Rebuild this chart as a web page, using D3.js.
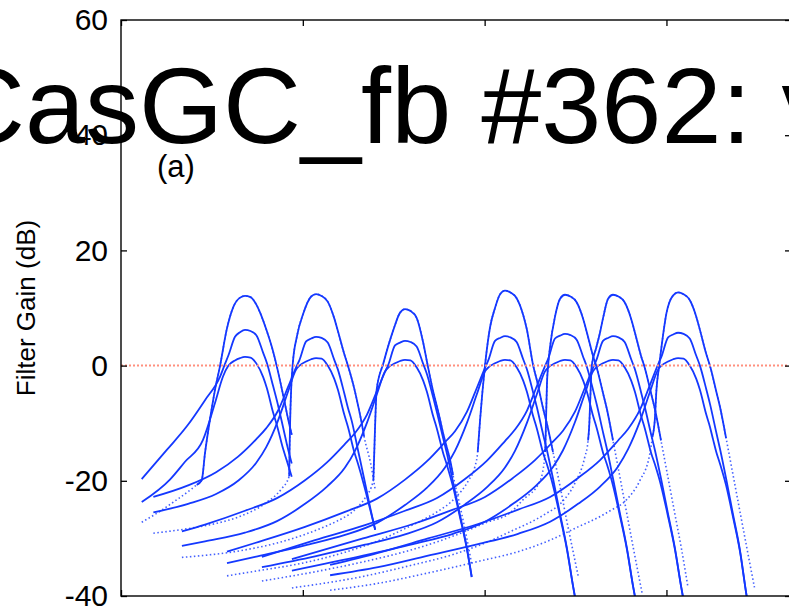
<!DOCTYPE html>
<html><head><meta charset="utf-8">
<script src="https://cdn.jsdelivr.net/npm/d3@7"></script>
<style>
html,body{margin:0;padding:0;background:#fff;overflow:hidden}
svg{display:block}
text{font-family:"Liberation Sans",Arial,Helvetica,sans-serif;fill:#000}
</style></head><body>
<svg id="chart" width="789" height="611"></svg>
<script>
// Filter gain responses [frequency, gain dB] for seven channels at three levels.
// "Hi" = highest-gain (sharpest) response, "Mid" and "Lo" = lower-gain responses.
const ch1Hi = [[0.114,-27.2],[0.214,-25.3],[0.297,-23.5],[0.389,-21.4],[0.416,-20.7],[0.444,-19.9],[0.462,-15.2],[0.489,-9.4],[0.517,-4.2],[0.545,0],[0.581,6.2],[0.618,10.2],[0.655,11.8],[0.682,12.1],[0.712,11.9],[0.746,10.5],[0.765,9.2],[0.802,6],[0.829,3.3],[0.856,0],[0.893,-5.3],[0.920,-9.4],[0.939,-12]];
const ch1Mid = [[0.114,-19.7],[0.253,-14.6],[0.363,-10.5],[0.462,-6],[0.545,-1.9],[0.572,0.3],[0.591,1.8],[0.627,5],[0.655,5.8],[0.682,6.2],[0.712,6],[0.746,5.2],[0.782,2.2],[0.802,0.5],[0.837,-3.6],[0.857,-6],[0.892,-10.8],[0.912,-13.6],[0.939,-17]];
const ch1Lo = [[0.114,-23.7],[0.269,-19.8],[0.352,-16.7],[0.451,-12.9],[0.517,-6.5],[0.561,-1.9],[0.591,0],[0.627,0.9],[0.655,1.3],[0.682,1.5],[0.712,1.4],[0.746,0.3],[0.782,-2],[0.802,-3.9],[0.837,-8.2],[0.857,-10.3],[0.892,-14.5],[0.912,-16.5],[0.939,-19.3]];

const ch2Hi = [[0.178,-29.1],[0.369,-28.3],[0.523,-27.4],[0.644,-26.3],[0.798,-23.8],[0.880,-21.5],[0.925,-19.2],[0.927,-15],[0.930,-10],[0.936,-4],[0.945,0.4],[0.967,5],[1.003,9.1],[1.046,12],[1.073,12.4],[1.103,12.1],[1.137,11.1],[1.173,8.2],[1.193,6],[1.228,2],[1.248,0],[1.283,-4],[1.303,-6.8],[1.324,-10],[1.337,-12.3],[1.373,-17],[1.398,-21.5]];
const ch2Mid = [[0.178,-22.8],[0.369,-20.8],[0.523,-18.5],[0.644,-15.8],[0.743,-12.8],[0.798,-10.9],[0.864,-7.8],[0.919,-3.7],[0.963,-0.3],[0.982,1],[1.018,4.2],[1.046,4.7],[1.073,5.0],[1.103,4.8],[1.137,4],[1.173,1],[1.193,-0.7],[1.228,-4.8],[1.248,-7.3],[1.269,-9.6],[1.303,-14.6],[1.337,-19.6],[1.373,-25],[1.398,-28.5]];
const ch2Lo = [[0.178,-25.5],[0.369,-24],[0.523,-22.3],[0.644,-20],[0.743,-16.9],[0.798,-14.2],[0.864,-9.5],[0.919,-4.5],[0.963,-0.7],[0.982,0],[1.018,0.7],[1.046,1.1],[1.073,1.3],[1.103,1.2],[1.137,0],[1.173,-2.3],[1.193,-4.2],[1.228,-8.5],[1.248,-10.6],[1.283,-15],[1.303,-17],[1.337,-20.8],[1.373,-25.3],[1.398,-28.5]];

const ch3Hi = [[0.335,-33.3],[0.682,-32],[0.858,-30.8],[1.012,-29.3],[1.133,-27.8],[1.188,-27],[1.287,-25],[1.342,-23],[1.388,-19.9],[1.397,-11],[1.406,-4.2],[1.443,0.4],[1.498,6.2],[1.535,9.2],[1.562,9.8],[1.592,9.5],[1.626,8.3],[1.662,4],[1.682,0.8],[1.717,-4.5],[1.737,-7],[1.755,-9.4],[1.772,-11.8],[1.792,-14.2],[1.810,-16.4],[1.826,-19],[1.862,-24],[1.902,-30],[1.929,-34.5]];
const ch3Mid = [[0.335,-28.8],[0.462,-27.6],[0.682,-25.2],[0.858,-23],[1.012,-19.9],[1.133,-16.8],[1.232,-13.6],[1.287,-11.7],[1.353,-8.5],[1.408,-4.4],[1.452,-1.1],[1.471,0.2],[1.507,3.5],[1.535,4],[1.562,4.3],[1.592,4.1],[1.626,3.3],[1.662,0.3],[1.682,-1.4],[1.717,-5.5],[1.737,-8],[1.772,-12.6],[1.792,-15.2],[1.826,-20.2],[1.862,-25.6],[1.902,-31.6],[1.929,-36.7]];
const ch3Lo = [[0.335,-31.3],[0.462,-30.5],[0.682,-29],[0.858,-27],[1.012,-24],[1.133,-21],[1.232,-17.7],[1.287,-14.8],[1.353,-9.9],[1.408,-4.9],[1.452,-1],[1.471,-0.3],[1.507,0.4],[1.535,0.8],[1.562,1.0],[1.592,0.9],[1.626,-0.3],[1.662,-2.6],[1.682,-4.5],[1.717,-8.8],[1.737,-10.9],[1.772,-15.2],[1.792,-17.2],[1.826,-21],[1.862,-26],[1.902,-31.8],[1.929,-36.7]];

const ch4Hi = [[0.583,-36.5],[0.737,-35.7],[1.012,-34.2],[1.232,-32.4],[1.408,-30.5],[1.562,-28.3],[1.683,-26.4],[1.738,-25.4],[1.837,-23],[1.910,-20],[1.947,-17.5],[1.962,-15],[1.975,-9.4],[1.988,-4.5],[2.002,0],[2.030,6.7],[2.057,10],[2.085,12.4],[2.112,13],[2.142,12.7],[2.176,11.7],[2.212,8.8],[2.232,6.3],[2.267,0],[2.287,-2.5],[2.322,-7.5],[2.342,-10],[2.376,-15],[2.412,-20.5],[2.452,-27],[2.488,-32.5],[2.515,-36.6]];
const ch4Mid = [[0.583,-32.3],[0.737,-30.8],[1.012,-28],[1.232,-25.4],[1.408,-23.1],[1.562,-19.8],[1.683,-16.6],[1.782,-13.3],[1.837,-11.4],[1.903,-8],[1.958,-3.8],[2.002,-0.4],[2.021,1],[2.057,4.3],[2.085,4.8],[2.112,5.1],[2.142,4.9],[2.176,4.1],[2.212,1.1],[2.232,-0.6],[2.267,-4.7],[2.287,-7.2],[2.322,-12],[2.342,-14.6],[2.376,-19.6],[2.412,-25.3],[2.452,-31.6],[2.488,-38.6],[2.525,-45]];
const ch4Lo = [[0.583,-34.3],[0.737,-33.2],[1.012,-31.2],[1.232,-29.4],[1.408,-27.3],[1.562,-24.2],[1.683,-21.2],[1.782,-17.7],[1.837,-14.8],[1.903,-9.9],[1.958,-4.9],[2.002,-1],[2.021,-0.3],[2.057,0.4],[2.085,0.8],[2.112,1.0],[2.142,0.9],[2.176,-0.3],[2.212,-2.6],[2.232,-4.5],[2.267,-8.8],[2.287,-10.9],[2.322,-15.2],[2.342,-17.1],[2.376,-20.8],[2.412,-25.8],[2.452,-31.8],[2.488,-38.6],[2.525,-45]];

const ch5Hi = [[0.775,-37.4],[1.067,-35.8],[1.342,-34],[1.562,-32.3],[1.738,-30.6],[1.892,-28.8],[2.013,-27.2],[2.139,-25.6],[2.211,-23.3],[2.305,-20],[2.333,-15],[2.335,-13],[2.338,-9],[2.343,-3],[2.349,0],[2.360,3.3],[2.387,8.5],[2.415,11.6],[2.442,12.3],[2.472,12],[2.506,11],[2.542,8.1],[2.562,5.8],[2.597,1.6],[2.617,-0.4],[2.652,-4.9],[2.672,-7.5],[2.706,-13],[2.742,-19],[2.782,-25.7],[2.818,-31.7],[2.866,-39.5]];
const ch5Mid = [[0.775,-33.2],[1.067,-30.3],[1.342,-27.7],[1.562,-25.2],[1.738,-23],[1.892,-19.7],[2.013,-16.5],[2.112,-13.1],[2.167,-11.1],[2.233,-7.8],[2.288,-3.5],[2.332,-0.1],[2.351,1.3],[2.387,4.7],[2.415,5.2],[2.442,5.5],[2.472,5.3],[2.506,4.5],[2.542,1.5],[2.562,-0.2],[2.597,-4.3],[2.617,-6.8],[2.652,-11.7],[2.672,-14.4],[2.706,-19.6],[2.742,-25.3],[2.782,-31.6],[2.818,-38.6],[2.866,-46]];
const ch5Lo = [[0.775,-35],[1.067,-33.1],[1.342,-31.1],[1.562,-29.3],[1.738,-27.2],[1.892,-24.1],[2.013,-21.1],[2.112,-17.7],[2.167,-14.8],[2.233,-9.9],[2.288,-4.9],[2.332,-1],[2.351,-0.3],[2.387,0.4],[2.415,0.8],[2.442,1.0],[2.472,0.9],[2.506,-0.3],[2.542,-2.6],[2.562,-4.5],[2.597,-8.8],[2.617,-10.9],[2.652,-15.2],[2.672,-17.1],[2.706,-20.8],[2.742,-25.8],[2.782,-31.8],[2.818,-38.6],[2.866,-46]];

const ch6Hi = [[0.940,-38.6],[1.331,-36.6],[1.606,-34.6],[1.826,-32.8],[2.002,-30.8],[2.156,-28.6],[2.277,-26.8],[2.332,-25.8],[2.422,-23.8],[2.495,-20.5],[2.550,-16],[2.569,-13],[2.576,-10],[2.582,-5],[2.589,0],[2.613,3],[2.635,5.8],[2.653,8.5],[2.679,11.6],[2.706,12.3],[2.736,12],[2.770,11],[2.806,8.1],[2.826,5.8],[2.861,1.6],[2.881,-0.4],[2.916,-4.9],[2.936,-7.5],[2.970,-13],[3.006,-19],[3.046,-25.7],[3.082,-31.7],[3.119,-38.6]];
const ch6Mid = [[0.940,-33.6],[1.331,-30],[1.606,-27.5],[1.826,-25],[2.002,-22.8],[2.156,-19.5],[2.277,-16.4],[2.376,-13.2],[2.431,-11.3],[2.497,-8],[2.552,-3.8],[2.596,-0.4],[2.615,1],[2.651,4.3],[2.679,4.8],[2.706,5.1],[2.736,4.9],[2.770,4.1],[2.806,1.1],[2.826,-0.6],[2.861,-4.7],[2.881,-7.2],[2.916,-12],[2.936,-14.6],[2.970,-19.6],[3.006,-25.3],[3.046,-31.6],[3.082,-38.6],[3.119,-45]];
const ch6Lo = [[0.940,-35.6],[1.331,-33],[1.606,-31],[1.826,-29.2],[2.002,-27.1],[2.156,-24],[2.277,-21],[2.376,-17.6],[2.431,-14.7],[2.497,-9.8],[2.552,-4.8],[2.596,-1],[2.615,-0.3],[2.651,0.4],[2.679,0.8],[2.706,1.0],[2.736,0.9],[2.770,-0.3],[2.806,-2.6],[2.826,-4.5],[2.861,-8.8],[2.881,-10.9],[2.916,-15.2],[2.936,-17.1],[2.970,-20.8],[3.006,-25.8],[3.046,-31.8],[3.082,-38.6],[3.119,-45]];

const ch7Hi = [[1.150,-39],[1.414,-37.8],[1.689,-36],[1.964,-34],[2.184,-32.3],[2.360,-30.3],[2.514,-28],[2.635,-26.2],[2.690,-25.2],[2.780,-23.3],[2.853,-20],[2.908,-15.4],[2.923,-12.4],[2.936,-9.4],[2.945,-4.2],[2.960,0],[2.973,3.3],[3.000,9.1],[3.037,12.2],[3.064,12.7],[3.094,12.4],[3.128,11.4],[3.164,8.5],[3.184,6.2],[3.219,2],[3.239,0],[3.274,-4.5],[3.294,-7.1],[3.328,-12.6],[3.364,-18.6],[3.404,-25.3],[3.440,-31.3],[3.484,-38.5]];
const ch7Mid = [[1.150,-34.6],[1.414,-32.5],[1.689,-30],[1.964,-27.5],[2.184,-25],[2.360,-22.8],[2.514,-19.5],[2.635,-16.4],[2.734,-13],[2.789,-11],[2.855,-7.6],[2.910,-3.3],[2.954,0.2],[2.973,1.6],[3.009,4.9],[3.037,5.4],[3.064,5.7],[3.094,5.5],[3.128,4.7],[3.164,1.7],[3.184,0],[3.219,-4.1],[3.239,-6.6],[3.274,-11.6],[3.294,-14.4],[3.328,-19.6],[3.364,-25.5],[3.404,-32],[3.440,-39.8],[3.484,-47.5]];
const ch7Lo = [[1.150,-36.4],[1.414,-35],[1.689,-33],[1.964,-31],[2.184,-29.2],[2.360,-27.1],[2.514,-24],[2.635,-21],[2.734,-17.5],[2.789,-14.5],[2.855,-9.6],[2.910,-4.5],[2.954,-0.7],[2.973,0],[3.009,0.7],[3.037,1.1],[3.064,1.3],[3.094,1.2],[3.128,0],[3.164,-2.3],[3.184,-4.2],[3.219,-8.5],[3.239,-10.6],[3.257,-12.9],[3.274,-15],[3.294,-17],[3.328,-20.8],[3.364,-26],[3.404,-32.2],[3.440,-39.8],[3.484,-47.5]];

// Frequency span over which each highest-gain response is drawn solid (dotted outside).
const hiSolidSpan = [[0.416,0.939],[0.925,1.337],[1.388,1.826],[1.962,2.376],[2.333,2.706],[2.569,2.970],[2.923,3.328]];

const yTicks = [60, 40, 20, 0, -20, -40];
const xTicks = [0, 1, 2, 3];
const referenceGain = 0;
const xDomain = [0, 3.685];
const yDomain = [-40, 60];

const hiCurves = [ch1Hi, ch2Hi, ch3Hi, ch4Hi, ch5Hi, ch6Hi, ch7Hi];
const broadCurves = [ch1Mid, ch1Lo, ch2Mid, ch2Lo, ch3Mid, ch3Lo, ch4Mid, ch4Lo, ch5Mid, ch5Lo, ch6Mid, ch6Lo, ch7Mid, ch7Lo];

(function draw() {
  const svg = d3.select("#chart");
  const pL = 121, pR = 791, pT = 20, pB = 596;
  const x = d3.scaleLinear().domain(xDomain).range([pL, pR]);
  const y = d3.scaleLinear().domain(yDomain).range([pB, pT]);

  svg.append("defs").append("clipPath").attr("id", "plotArea")
    .append("rect").attr("x", pL).attr("y", pT)
    .attr("width", pR - pL).attr("height", pB - pT);

  const line = d3.line().x(d => x(d[0])).y(d => y(d[1])).curve(d3.curveMonotoneX);
  const blue = "#1438ff";
  const plot = svg.append("g").attr("clip-path", "url(#plotArea)");

  // dotted full-range traces of the sharp responses
  plot.selectAll("path.hi-dot").data(hiCurves).join("path")
    .attr("class", "hi-dot").attr("d", line)
    .attr("fill", "none").attr("stroke", blue).attr("stroke-opacity", 0.8)
    .attr("stroke-width", 1.6).attr("stroke-dasharray", "1.5,2.5");

  // solid parts of the sharp responses
  plot.selectAll("path.hi").data(hiCurves.map((c, i) =>
      c.filter(p => p[0] >= hiSolidSpan[i][0] - 1e-9 && p[0] <= hiSolidSpan[i][1] + 1e-9)))
    .join("path").attr("class", "hi").attr("d", line)
    .attr("fill", "none").attr("stroke", blue).attr("stroke-width", 1.8);

  // broader, lower-gain responses
  plot.selectAll("path.broad").data(broadCurves).join("path")
    .attr("class", "broad").attr("d", line)
    .attr("fill", "none").attr("stroke", blue).attr("stroke-width", 1.8);

  // 0 dB reference
  plot.append("line")
    .attr("x1", x(xDomain[0])).attr("x2", x(xDomain[1]))
    .attr("y1", y(referenceGain)).attr("y2", y(referenceGain))
    .attr("stroke", "#ff907e").attr("stroke-width", 2).attr("stroke-dasharray", "2,2");

  // axes with inward ticks
  const yAxisL = svg.append("g").attr("transform", `translate(${pL},0)`)
    .call(d3.axisLeft(y).tickValues(yTicks).tickSize(-6).tickPadding(13).tickFormat(d => String(d)));
  yAxisL.select(".domain").remove();
  yAxisL.selectAll("text").attr("font-size", 30)
    .attr("font-family", '"Liberation Sans",Arial,sans-serif').attr("fill", "#000");

  const yAxisR = svg.append("g").attr("transform", `translate(${pR},0)`)
    .call(d3.axisRight(y).tickValues(yTicks).tickSize(-6).tickFormat(""));
  yAxisR.select(".domain").remove();

  const xAxisB = svg.append("g").attr("transform", `translate(0,${pB})`)
    .call(d3.axisBottom(x).tickValues(xTicks).tickSize(-6).tickFormat(""));
  xAxisB.select(".domain").remove();
  const xAxisT = svg.append("g").attr("transform", `translate(0,${pT})`)
    .call(d3.axisTop(x).tickValues(xTicks).tickSize(-6).tickFormat(""));
  xAxisT.select(".domain").remove();

  svg.selectAll(".tick line").attr("stroke", "#000").attr("stroke-width", 1.3);

  svg.append("rect").attr("x", pL).attr("y", pT)
    .attr("width", pR - pL).attr("height", pB - pT)
    .attr("fill", "none").attr("stroke", "#000").attr("stroke-width", 1.4);

  // labels
  svg.append("text").attr("transform", `translate(35,${(pT + pB) / 2}) rotate(-90)`)
    .attr("text-anchor", "middle").attr("font-size", 26).text("Filter Gain (dB)");

  svg.append("text").attr("x", 157).attr("y", 177).attr("font-size", 31).text("(a)");

  svg.append("text").attr("x", -53).attr("y", 143).attr("font-size", 108).text("CasGC_fb #362: v");
})();
</script></body></html>
